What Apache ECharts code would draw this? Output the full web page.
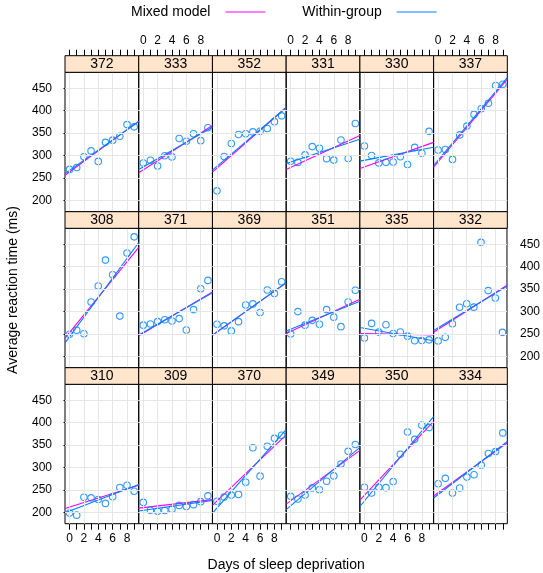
<!DOCTYPE html>
<html>
<head>
<meta charset="utf-8">
<script src="https://cdn.jsdelivr.net/npm/echarts@6/dist/echarts.min.js"></script>
<style>html,body{margin:0;padding:0;background:#fff}#chart{width:543px;height:573px}</style>
</head>
<body>
<div id="chart"></div>
<script>
// ---- data ----
const days = [0, 1, 2, 3, 4, 5, 6, 7, 8, 9];
const xTicks = [0, 1, 2, 3, 4, 5, 6, 7, 8, 9];
const xTickLabels = [0, 2, 4, 6, 8];
const yTicks = [200, 250, 300, 350, 400, 450];
const xRange = [-0.63, 9.63];
const yRange = [175.3, 485.4];

// panel order, top row first, left to right
const panelSubjects = ['372','333','352','331','330','337',
                       '308','371','369','351','335','332',
                       '310','309','370','349','350','334'];

const rt308 = [249.6, 258.7, 250.8, 321.4, 356.9, 414.7, 382.2, 290.1, 430.6, 466.4];
const rt309 = [222.7, 205.3, 203.0, 204.7, 207.7, 216.0, 213.6, 217.7, 224.3, 237.3];
const rt310 = [199.1, 194.3, 234.3, 232.8, 229.3, 220.5, 235.4, 255.8, 261.0, 247.5];
const rt330 = [321.5, 300.4, 283.9, 285.1, 285.8, 297.6, 280.2, 318.3, 305.3, 354.0];
const rt331 = [287.6, 285.0, 301.8, 320.1, 316.3, 293.3, 290.1, 334.8, 293.7, 371.6];
const rt332 = [234.9, 242.8, 273.0, 309.8, 317.5, 310.0, 454.2, 346.8, 330.3, 253.9];
const rt333 = [283.8, 289.6, 276.8, 299.8, 297.2, 338.2, 332.0, 348.8, 333.4, 362.0];
const rt334 = [264.3, 276.2, 243.4, 254.7, 279.0, 284.2, 305.5, 331.5, 335.7, 377.3];
const rt335 = [241.6, 273.9, 254.5, 270.8, 251.5, 254.6, 245.5, 235.3, 235.8, 237.2];
const rt337 = [312.4, 313.8, 291.6, 346.1, 365.7, 391.8, 404.3, 416.7, 455.9, 458.9];
const rt349 = [236.1, 230.3, 238.9, 254.9, 250.7, 269.8, 281.6, 308.1, 336.3, 351.6];
const rt350 = [256.3, 243.5, 256.2, 255.5, 268.9, 329.7, 379.4, 362.9, 394.5, 389.1];
const rt351 = [250.5, 300.1, 269.9, 280.6, 271.8, 304.6, 287.7, 266.6, 321.5, 347.6];
const rt352 = [221.7, 298.2, 326.9, 346.9, 348.7, 352.8, 354.4, 360.4, 375.6, 388.5];
const rt369 = [271.9, 268.4, 257.2, 277.7, 314.8, 317.2, 298.1, 348.1, 340.3, 366.5];
const rt370 = [225.3, 234.5, 238.9, 240.5, 267.5, 344.2, 281.1, 347.6, 365.2, 372.2];
const rt371 = [269.9, 272.4, 277.9, 281.8, 279.2, 284.5, 259.3, 304.6, 350.8, 369.5];
const rt372 = [269.4, 273.5, 297.6, 310.6, 287.2, 329.6, 334.5, 343.2, 369.1, 364.1];

// fitted lines (intercept, slope), aligned with panelSubjects
const mixedIntercept  = [263.72, 268.25, 272.27, 273.67, 275.10, 286.30,
                         253.66, 252.21, 254.68, 255.98, 251.07, 260.44,
                         212.44, 211.01, 225.79, 226.20, 238.34, 244.17];
const mixedSlope      = [11.75, 10.24, 14.00, 7.40, 5.65, 19.10,
                         19.67, 9.48, 11.34, 7.45, -0.28, 10.20,
                         5.02, 1.85, 15.29, 11.64, 17.08, 11.54];
const withinIntercept = [267.04, 275.02, 276.37, 285.74, 289.69, 290.10,
                         244.19, 253.64, 254.97, 261.15, 263.03, 264.25,
                         203.48, 205.05, 210.45, 215.11, 225.83, 240.16];
const withinSlope     = [11.30, 9.14, 13.57, 5.27, 3.01, 19.03,
                         21.76, 9.19, 11.35, 6.43, -2.88, 9.57,
                         6.11, 2.26, 18.06, 13.49, 19.50, 12.25];

const reactionBySubject = {
  '308': rt308, '309': rt309, '310': rt310, '330': rt330, '331': rt331, '332': rt332,
  '333': rt333, '334': rt334, '335': rt335, '337': rt337, '349': rt349, '350': rt350,
  '351': rt351, '352': rt352, '369': rt369, '370': rt370, '371': rt371, '372': rt372
};

// ---- layout ----
const FONT = "'Liberation Sans', Arial, Helvetica, sans-serif";
const L = 65, T = 72.3, W = 73.72, H = 139.4, STRIP = 16.6, PITCH = 156;
const NCOL = 6;

const grids = [], xAxes = [], yAxes = [], series = [], graphics = [];

panelSubjects.forEach((subj, i) => {
  const r = Math.floor(i / NCOL), c = i % NCOL;
  const left = L + c * W, top = T + r * PITCH;
  grids.push({ left: left, top: top, width: W, height: H, show: true,
               borderColor: '#000', borderWidth: 1, backgroundColor: 'transparent' });
  const showXLab = (r === 0 && c % 2 === 1) || (r === 2 && c % 2 === 0);
  xAxes.push({
    gridIndex: i, type: 'value', min: xRange[0], max: xRange[1],
    position: r === 0 ? 'top' : 'bottom', offset: r === 0 ? STRIP : 0,
    axisLine: { show: false },
    axisTick: { show: r !== 1, customValues: xTicks, length: 6, lineStyle: { color: '#000', width: 1 } },
    axisLabel: { show: showXLab, customValues: xTickLabels, fontSize: 12, color: '#000',
                 fontFamily: FONT, margin: 9 },
    splitLine: { show: false }
  });
  const showYLab = (c === 0 && r !== 1) || (c === NCOL - 1 && r === 1);
  yAxes.push({
    gridIndex: i, type: 'value', min: yRange[0], max: yRange[1],
    position: c === NCOL - 1 ? 'right' : 'left',
    axisLine: { show: false },
    axisTick: { show: c === 0 || c === NCOL - 1, customValues: yTicks, length: 6,
                lineStyle: { color: '#000', width: 1 } },
    axisLabel: { show: showYLab, customValues: yTicks, fontSize: 12, color: '#000',
                 fontFamily: FONT, margin: 13 },
    splitLine: { show: false }
  });
  // reference grid
  series.push({
    type: 'line', xAxisIndex: i, yAxisIndex: i, data: [], silent: true, z: 1,
    markLine: {
      silent: true, symbol: ['none', 'none'], label: { show: false }, animation: false,
      lineStyle: { color: '#e6e6e6', type: 'solid', width: 1 },
      data: xTickLabels.map(v => ({ xAxis: v })).concat(yTicks.map(v => ({ yAxis: v })))
    }
  });
  const lineData = (a, b) => xRange.map(x => [x, a + b * x]);
  series.push({
    name: 'Mixed model', type: 'line', xAxisIndex: i, yAxisIndex: i, z: 2, silent: true,
    symbol: 'none', clip: true, data: lineData(mixedIntercept[i], mixedSlope[i]),
    lineStyle: { color: '#ff00ff', width: 1.1 }, itemStyle: { color: '#ff00ff' }
  });
  series.push({
    name: 'Within-group', type: 'line', xAxisIndex: i, yAxisIndex: i, z: 3, silent: true,
    symbol: 'none', clip: true, data: lineData(withinIntercept[i], withinSlope[i]),
    lineStyle: { color: '#0080ff', width: 1.1 }, itemStyle: { color: '#0080ff' }
  });
  const rt = reactionBySubject[subj];
  series.push({
    name: 'Reaction', type: 'scatter', xAxisIndex: i, yAxisIndex: i, z: 4, silent: true,
    symbol: 'circle', symbolSize: 6.5, clip: true,
    data: days.map((d, k) => [d, rt[k]]),
    itemStyle: { color: 'rgba(0,0,0,0)', borderColor: '#0080ff', borderWidth: 1.1 }
  });
  // strip
  graphics.push({
    type: 'rect', shape: { x: left, y: top - STRIP, width: W, height: STRIP },
    style: { fill: '#ffe5cc', stroke: '#000', lineWidth: 1 }, z: 10
  });
  graphics.push({
    type: 'text', x: left + W / 2, y: top - STRIP / 2 + 0.5, z: 11,
    style: { text: subj, fontSize: 14, fontFamily: FONT, fill: '#000',
             align: 'center', verticalAlign: 'middle' }
  });
});

graphics.push({
  type: 'text', x: L + NCOL * W / 2, y: 565, z: 11,
  style: { text: 'Days of sleep deprivation', fontSize: 14, fontFamily: FONT, fill: '#000',
           align: 'center', verticalAlign: 'middle' }
});
graphics.push({
  type: 'text', x: 13, y: 290, rotation: Math.PI / 2, z: 11,
  style: { text: 'Average reaction time (ms)', fontSize: 14, fontFamily: FONT, fill: '#000',
           align: 'center', verticalAlign: 'middle' }
});

const chart = echarts.init(document.getElementById('chart'), null, { renderer: 'canvas' });
chart.setOption({
  animation: false,
  backgroundColor: '#fff',
  legend: {
    data: [
      { name: 'Mixed model', icon: 'rect', itemStyle: { color: '#ff00ff' } },
      { name: 'Within-group', icon: 'rect', itemStyle: { color: '#0080ff' } }
    ],
    left: 131, top: 5, padding: 0, align: 'right', itemWidth: 40, itemHeight: 1.2, itemGap: 37,
    selectedMode: false,
    textStyle: { fontSize: 14, fontFamily: FONT, color: '#000', padding: [0, 10, 0, 0] }
  },
  grid: grids, xAxis: xAxes, yAxis: yAxes, series: series, graphic: graphics
});
</script>
</body>
</html>
